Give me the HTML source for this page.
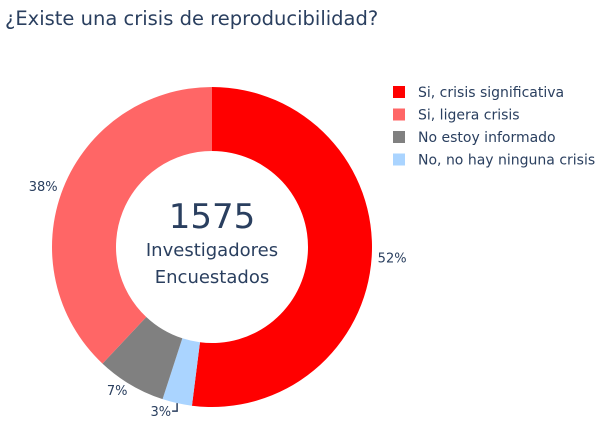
<!DOCTYPE html>
<html><head><meta charset="utf-8"><style>
body{margin:0;background:#fff;}
svg{display:block;font-family:"DejaVu Sans","Liberation Sans",sans-serif;}
</style></head><body>
<svg width="600" height="429" viewBox="0 0 600 429">
<text x="5" y="25" font-size="19.5" fill="#2a3f5f">¿Existe una crisis de reproducibilidad?</text>
<g id="slices"></g>
<g id="labels"></g>
<text x="212" y="228" font-size="34" fill="#2a3f5f" text-anchor="middle">1575</text>
<text x="212" y="256" font-size="18" fill="#2a3f5f" text-anchor="middle">Investigadores</text>
<text x="212" y="283" font-size="18" fill="#2a3f5f" text-anchor="middle">Encuestados</text>
<g id="legend"></g>
</svg>
<script>
const categories=["Si, crisis significativa","No, no hay ninguna crisis","No estoy informado","Si, ligera crisis"];
const values=[52,3,7,38];
const colors=["#ff0000","#aad4ff","#808080","#ff6666"];
const legendOrder=[0,3,2,1];
const NS="http://www.w3.org/2000/svg";
const cx=212,cy=247,R=160,r=96;
const total=values.reduce((a,b)=>a+b,0);
function pt(a,rad){return [cx+rad*Math.sin(a),cy-rad*Math.cos(a)];}
const sg=document.getElementById('slices'),lg=document.getElementById('labels');
let acc=0;
values.forEach((v,i)=>{
 const a0=acc/total*2*Math.PI,a1=(acc+v)/total*2*Math.PI;acc+=v;
 const large=(a1-a0)>Math.PI?1:0;
 const p0=pt(a0,R),p1=pt(a1,R),q1=pt(a1,r),q0=pt(a0,r);
 const p=document.createElementNS(NS,'path');
 p.setAttribute('d',`M${p0[0]},${p0[1]}A${R},${R} 0 ${large} 1 ${p1[0]},${p1[1]}L${q1[0]},${q1[1]}A${r},${r} 0 ${large} 0 ${q0[0]},${q0[1]}Z`);
 p.setAttribute('fill',colors[i]);
 
 
 sg.appendChild(p);
 const am=(a0+a1)/2;
 let lp=pt(am,R+6);
 const t=document.createElementNS(NS,'text');
 const s=Math.sin(am);
 let anchor=s>0.3?'start':(s<-0.3?'end':'middle');
 let tx=lp[0],ty=lp[1]+5;
 if(v<5){
  const e=pt(am,R);
  const l=document.createElementNS(NS,'path');
  l.setAttribute('d',`M${e[0]},${e[1]}V${e[1]+8}H${e[0]-5}`);
  l.setAttribute('stroke','#2a3f5f');l.setAttribute('fill','none');l.setAttribute('stroke-width','1.5');
  
  
  lg.appendChild(l);
  tx=e[0]-6;ty=e[1]+13;anchor='end';
 }
 t.setAttribute('x',tx);t.setAttribute('y',ty);t.setAttribute('text-anchor',anchor);
 t.setAttribute('font-size','13');t.setAttribute('fill','#2a3f5f');
 t.textContent=Math.round(v/total*100)+'%';
 
 
 lg.appendChild(t);
});
const leg=document.getElementById('legend');
legendOrder.forEach((ci,k)=>{
 const y=92+k*22.5;
 const g=document.createElementNS(NS,'g');
 
 
 const rc=document.createElementNS(NS,'rect');
 rc.setAttribute('x',393);rc.setAttribute('y',y-6);rc.setAttribute('width',12);rc.setAttribute('height',12);rc.setAttribute('fill',colors[ci]);
 const t=document.createElementNS(NS,'text');
 t.setAttribute('x',418);t.setAttribute('y',y+5);t.setAttribute('font-size','14');t.setAttribute('fill','#2a3f5f');
 t.textContent=categories[ci];
 g.appendChild(rc);g.appendChild(t);leg.appendChild(g);
});
</script>
</body></html>
